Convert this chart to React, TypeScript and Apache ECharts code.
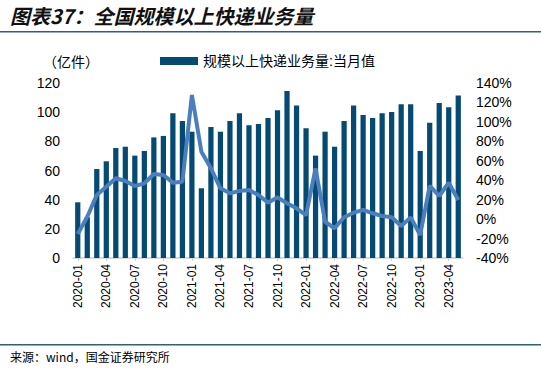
import React, { useEffect, useRef } from "react";
import * as echarts from "echarts";

const months: string[] = [
  "2020-01","2020-02","2020-03","2020-04","2020-05","2020-06","2020-07","2020-08","2020-09","2020-10","2020-11","2020-12",
  "2021-01","2021-02","2021-03","2021-04","2021-05","2021-06","2021-07","2021-08","2021-09","2021-10","2021-11","2021-12",
  "2022-01","2022-02","2022-03","2022-04","2022-05","2022-06","2022-07","2022-08","2022-09","2022-10","2022-11","2022-12",
  "2023-01","2023-02","2023-03","2023-04","2023-05",
];

const volume: number[] = [
  38.2, 28, 61.0, 66.3, 75.4, 76.3, 70.2, 73.4, 82.7, 83.7, 99.2, 93.9,
  86.6, 47.8, 89.8, 86.6, 93.9, 99.2, 91.0, 91.9, 96.0, 101.3, 114.5, 104.5,
  88.9, 70.2, 86.6, 76.3, 93.9, 104.5, 98.1, 96.0, 99.2, 100.1, 105.4, 105.4,
  73.4, 92.8, 106.3, 103.3, 111.5,
];

const growth: number[] = [
  -15.3, 2.5, 24.8, 33.3, 42.0, 39.2, 34.1, 36.8, 46.4, 45.4, 37.5, 38.5,
  127.7, 69.3, 52.2, 31.7, 26.5, 29.0, 30.0, 24.8, 16.9, 22.4, 16.3, 11.1,
  4.2, 52.2, -2.7, -9.4, 1.9, 6.6, 9.4, 6.0, 3.2, 1.9, -7.1, 1.8,
  -16.3, 34.1, 23.8, 37.5, 19.7,
];

const title = "图表37：全国规模以上快递业务量";
const unitLabel = "（亿件）";
const sourceText = "来源：wind，国金证券研究所";
const barName = "规模以上快递业务量:当月值";
const lineName = "同比";

export default function App() {
  const ref = useRef<HTMLDivElement>(null);
  useEffect(() => {
    document.body.style.margin = "0";
    if (!ref.current) return;
    const chart = echarts.init(ref.current, undefined, { renderer: "svg" });
    const font = "Liberation Sans, Arial, Noto Sans CJK SC, sans-serif";
    chart.setOption({
      animation: false,
      textStyle: { fontFamily: font },
      grid: { left: 73, right: 78, top: 83, bottom: 115, containLabel: false },
      legend: {
        data: [barName],
        left: 155,
        top: 49,
        itemWidth: 38,
        itemHeight: 8,
        itemGap: 4,
        icon: "rect",
        textStyle: { fontSize: 14, color: "#000", fontFamily: font },
      },
      graphic: [
        {
          type: "text",
          left: 10,
          top: 5,
          style: {
            text: title,
            font: "italic bold 20px 'Noto Sans CJK SC', sans-serif",
            fill: "#111",
          },
        },
        {
          type: "rect",
          shape: { x: 0, y: 31, width: 541, height: 1.5 },
          style: { fill: "#2f5f7f" },
        },
        {
          type: "text",
          left: 43,
          top: 54,
          style: { text: unitLabel, font: "14px 'Noto Sans CJK SC', sans-serif", fill: "#000" },
        },
        {
          type: "rect",
          shape: { x: 0, y: 344, width: 541, height: 1.5 },
          style: { fill: "#2f5f7f" },
        },
        {
          type: "text",
          left: 10,
          top: 350,
          style: { text: sourceText, font: "12px 'Noto Sans CJK SC', monospace", fill: "#000" },
        },
      ],
      xAxis: {
        type: "category",
        data: months,
        axisLine: { lineStyle: { color: "#d0d0d0", width: 1.5 } },
        axisTick: { show: true, interval: 2, alignWithLabel: true, length: 3, lineStyle: { color: "#d0d0d0" } },
        axisLabel: { interval: 2, rotate: 90, fontSize: 12, color: "#000", margin: 6 },
      },
      yAxis: [
        {
          type: "value",
          min: 0,
          max: 120,
          interval: 20,
          axisLine: { show: false },
          axisTick: { show: false },
          splitLine: { show: false },
          axisLabel: { fontSize: 14, color: "#000", margin: 13 },
        },
        {
          type: "value",
          min: -40,
          max: 140,
          interval: 20,
          axisLine: { show: false },
          axisTick: { show: false },
          splitLine: { show: false },
          axisLabel: { fontSize: 14, color: "#000", margin: 13, formatter: "{value}%" },
        },
      ],
      series: [
        {
          name: barName,
          type: "bar",
          data: volume,
          barWidth: "55%",
          itemStyle: { color: "#044a72" },
        },
        {
          name: lineName,
          type: "line",
          yAxisIndex: 1,
          data: growth,
          showSymbol: false,
          symbol: "none",
          lineStyle: { color: "#4a7ebd", width: 4 },
          itemStyle: { color: "#4a7ebd" },
          z: 5,
        },
      ],
    });
    return () => chart.dispose();
  }, []);
  return <div ref={ref} style={{ width: 541, height: 373 }} />;
}
